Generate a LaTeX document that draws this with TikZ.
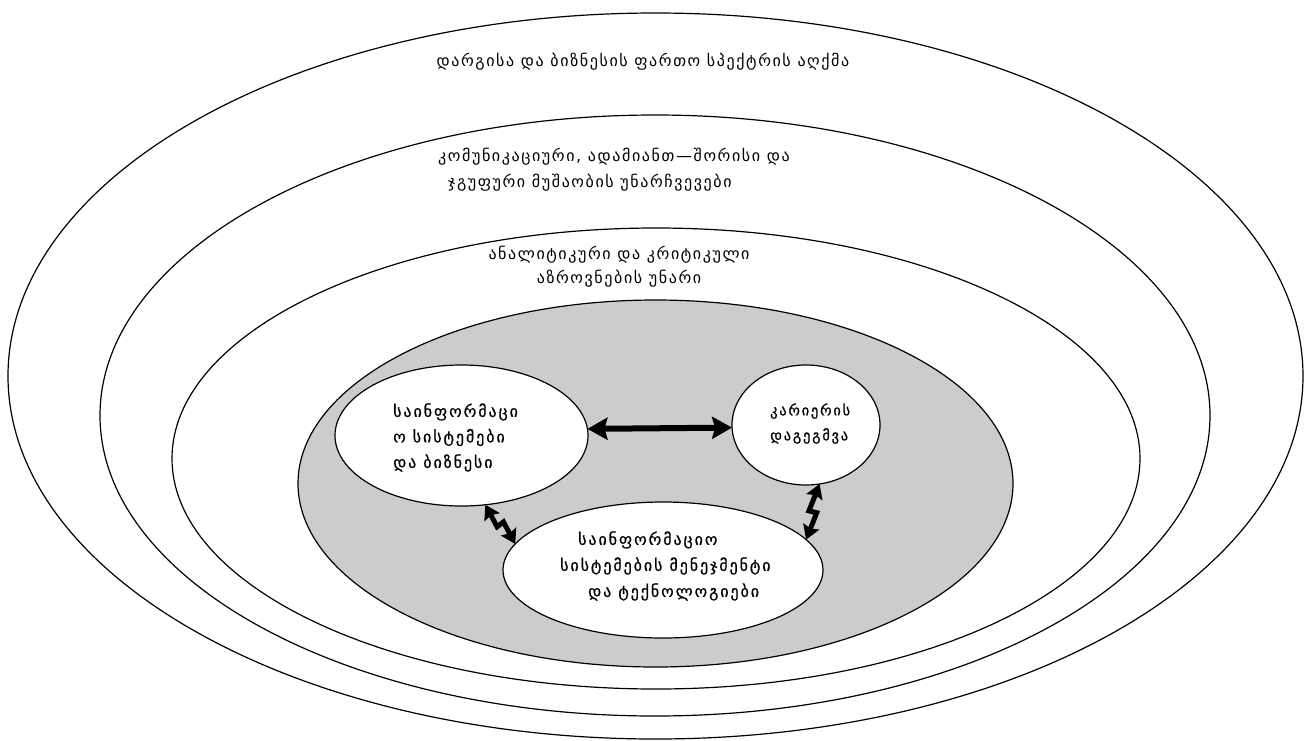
\documentclass[tikz,border=0pt]{standalone}
\usepackage{fontspec}
\newfontfamily\geo[Script=Georgian,LetterSpace=10]{DejaVu Sans}
\newfontfamily\geob[Script=Georgian,LetterSpace=12,FakeBold=0.6]{DejaVu Sans}
\usetikzlibrary{shapes.geometric,arrows.meta,calc}
\definecolor{ringgray}{RGB}{204,204,204}
\begin{document}
\begin{tikzpicture}[x=1pt,y=-1pt,
  ring/.style={draw=black,line width=1.2pt,ellipse,inner sep=0pt,outer sep=0pt},
  inner/.style={ring,fill=white},
  outertext/.style={font=\geo\fontsize{16}{26}\selectfont,inner sep=0pt},
  innertext/.style={font=\geob\fontsize{16}{25.5}\selectfont,inner sep=0pt},
  dblarrow/.style={line width=6pt,{Stealth[length=20pt,width=22pt,inset=3pt]}-{Stealth[length=20pt,width=22pt,inset=3pt]}},
  zigarrow/.style={line width=5pt,line join=miter,{Stealth[length=14pt,width=17pt,inset=2pt]}-{Stealth[length=14pt,width=17pt,inset=2pt]}}]
\useasboundingbox (0,0) rectangle (1307,740);
\fill[white] (0,0) rectangle (1307,740);
% rings
\node[ring,minimum width=1295pt,minimum height=726pt] (E1) at (655.5,376) {};
\node[ring,minimum width=1110pt,minimum height=601pt] (E2) at (655,415.5) {};
\node[ring,minimum width=968pt,minimum height=461pt] (E3) at (656,458.5) {};
\node[ring,fill=ringgray,minimum width=715pt,minimum height=367pt] (E4) at (655.5,483.5) {};
% ring labels
\node[outertext,anchor=center] (T1) at (643,62) {დარგისა და ბიზნესის ფართო სპექტრის აღქმა};
\node[outertext,align=left,anchor=west] (T2) at (438,170) {კომუნიკაციური, ადამიანთ—შორისი და\\\hspace*{10pt}ჯგუფური მუშაობის უნარჩვევები};
\node[outertext,align=center,anchor=center,font=\geo\fontsize{16}{23.5}\selectfont] (T3) at (619,266.5) {ანალიტიკური და კრიტიკული\\აზროვნების უნარი};
% inner ellipses
\node[inner,minimum width=253pt,minimum height=141pt] (L) at (461.5,435.5) {};
\node[inner,minimum width=148pt,minimum height=120pt] (R) at (806,425) {};
\node[inner,minimum width=320pt,minimum height=136pt] (B) at (663,570) {};
\node[innertext,align=left,anchor=west] (LT) at (393,437.5) {საინფორმაცი\\ო სისტემები\\და ბიზნესი};
\node[innertext,align=left,anchor=west,font=\geob\fontsize{14.5}{25}\selectfont] (RT) at (770,423.5) {კარიერის\\დაგეგმვა};
\node[innertext,align=left,anchor=west,font=\geob\fontsize{16}{26}\selectfont] (BT) at (560,566) {\hspace*{18pt}საინფორმაციო\\სისტემების მენეჯმენტი\\\hspace*{28pt}და ტექნოლოგიები};
% connectors
\draw[dblarrow] (L.3.4) -- (R.182.3);
\coordinate (a1) at (L.-71);
\coordinate (a2) at (B.170);
\draw[zigarrow] (a1) -- ($(a1)!0.5!(a2)!4pt!-90:(a2)$) -- ($(a1)!0.5!(a2)!4pt!90:(a2)$) -- (a2);
\coordinate (b1) at (R.-77);
\coordinate (b2) at (B.12.7);
\draw[zigarrow] (b1) -- ($(b1)!0.5!(b2)!4pt!-90:(b2)$) -- ($(b1)!0.5!(b2)!4pt!90:(b2)$) -- (b2);
\end{tikzpicture}
\end{document}
